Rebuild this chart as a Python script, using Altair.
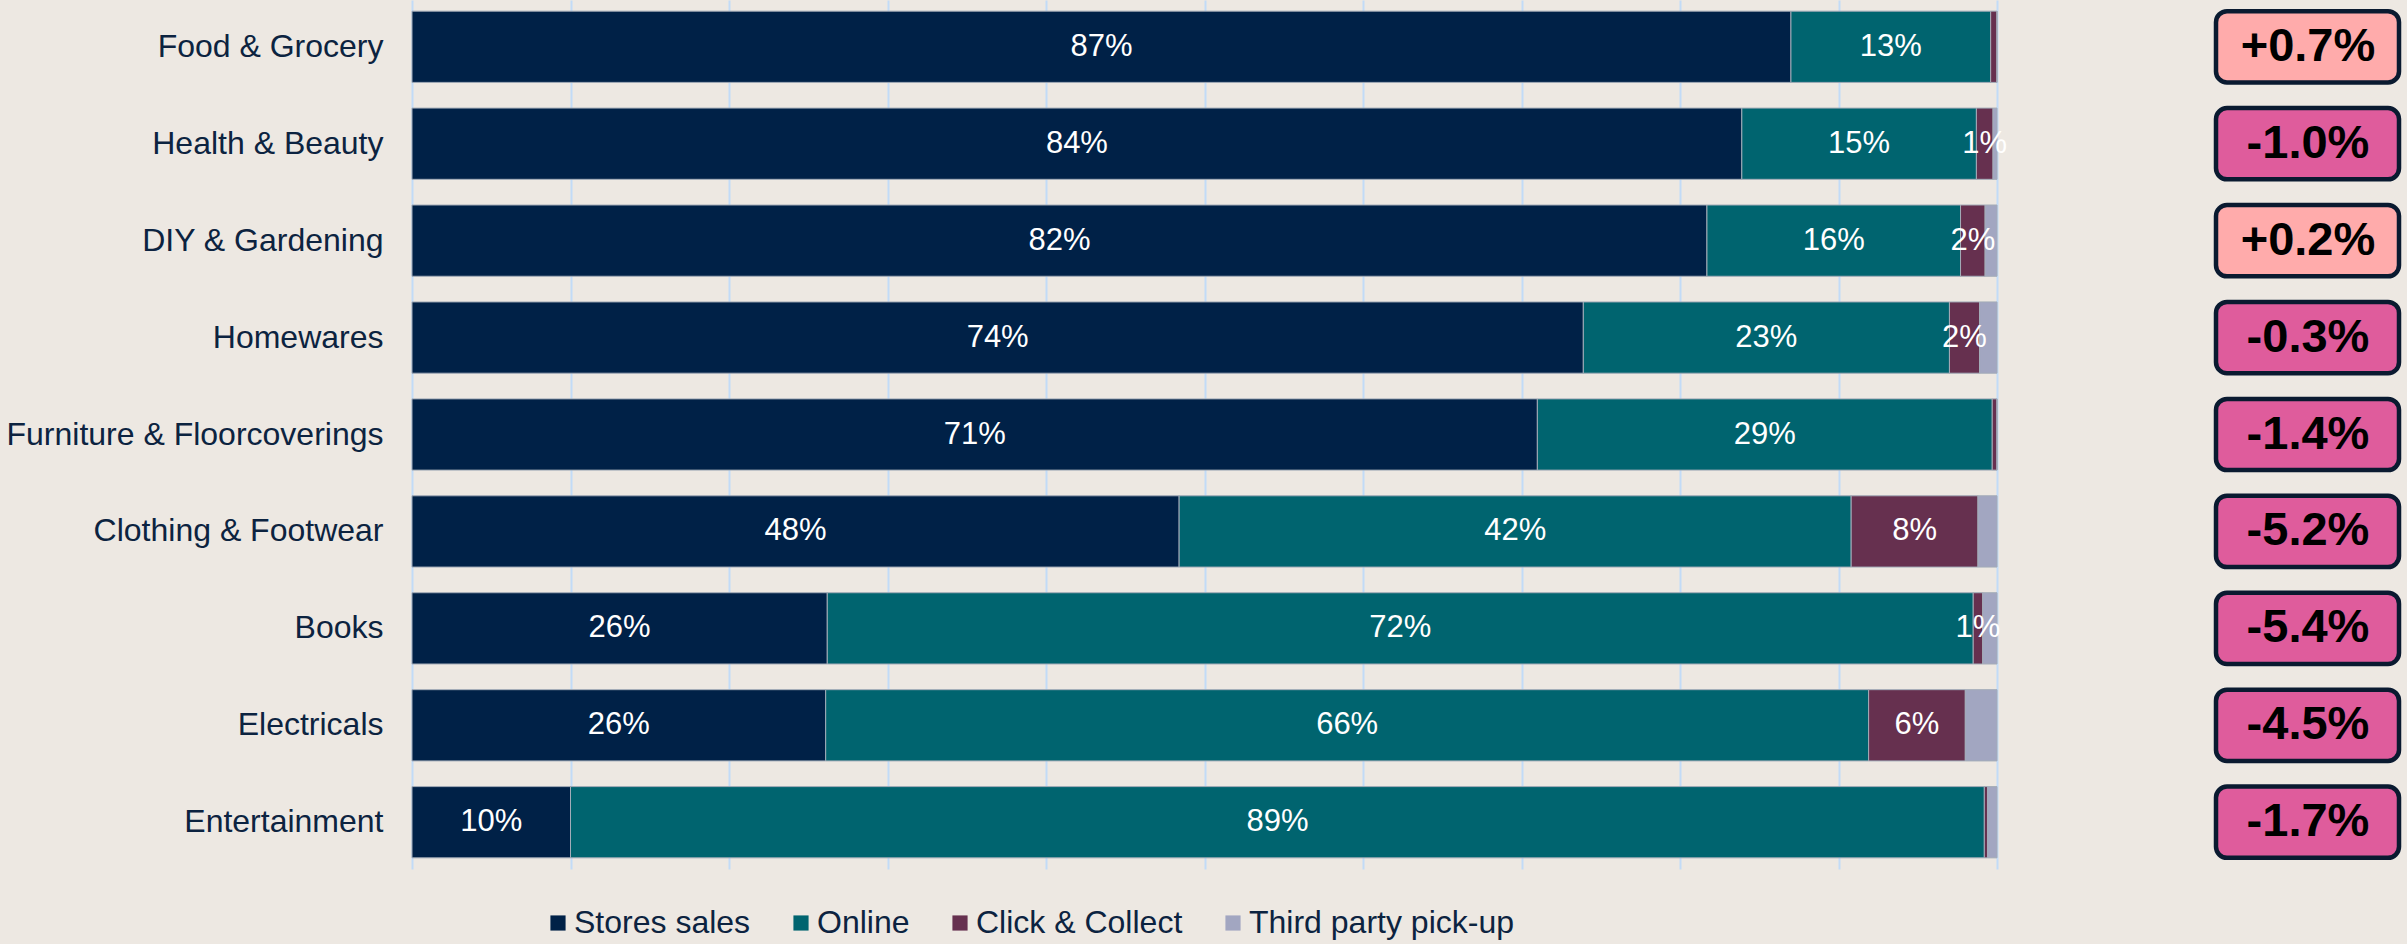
import altair as alt
import pandas as pd

categories = ["Food & Grocery", "Health & Beauty", "DIY & Gardening", "Homewares",
              "Furniture & Floorcoverings", "Clothing & Footwear", "Books",
              "Electricals", "Entertainment"]
series = ["Stores sales", "Online", "Click & Collect", "Third party pick-up"]
stores = [87.0, 83.9, 81.7, 73.9, 71.0, 48.4, 26.2, 26.1, 10.0]
online = [12.6, 14.8, 16.0, 23.1, 28.7, 42.4, 72.3, 65.8, 89.2]
click_collect = [0.4, 1.05, 1.55, 1.9, 0.3, 8.0, 0.6, 6.1, 0.2]
third_party = [0.0, 0.25, 0.75, 1.1, 0.0, 1.2, 0.9, 2.0, 0.6]
changes = [0.7, -1.0, 0.2, -0.3, -1.4, -5.2, -5.4, -4.5, -1.7]
grid_values = [0, 10, 20, 30, 40, 50, 60, 70, 80, 90, 100]

colors = ["#002147", "#00646f", "#66304f", "#a2a6c1"]
NAVY = "#0c2340"
BG = "#ede8e2"
GRID = "#c2dbf7"

rows = []
for i, c in enumerate(categories):
    for j, (s, vals) in enumerate(zip(series, [stores, online, click_collect, third_party])):
        rows.append({"category": c, "series": s, "order": j, "value": vals[i]})
df = pd.DataFrame(rows)

box_df = pd.DataFrame({
    "category": categories,
    "change": changes,
    "label": [f"{v:+.1f}%" for v in changes],
})

y_enc = alt.Y("category:N", sort=categories, title=None,
              scale=alt.Scale(paddingInner=0.265, paddingOuter=0.115),
              axis=alt.Axis(domain=False, ticks=False, labelFontSize=32,
                            labelColor=NAVY, labelPadding=29, labelLimit=500,
                            labelFont="Liberation Sans"))

bars = alt.Chart(df).mark_bar(stroke="#a3acb8", strokeWidth=1).encode(
    x=alt.X("value:Q", stack="zero", title=None,
            scale=alt.Scale(domain=[0, 100], nice=False),
            axis=alt.Axis(labels=False, ticks=False, domain=False,
                          values=grid_values,
                          grid=True, gridColor=GRID, gridWidth=2)),
    y=y_enc,
    color=alt.Color("series:N", sort=series,
                    scale=alt.Scale(domain=series, range=colors),
                    legend=alt.Legend(title=None, orient="none", direction="horizontal",
                                      legendX=130, legendY=907,
                                      symbolType="square", symbolSize=230,
                                      symbolStrokeWidth=0, symbolOpacity=1,
                                      labelFontSize=32, labelColor=NAVY,
                                      labelFont="Liberation Sans",
                                      labelOffset=0, columnPadding=34, padding=0,
                                      labelLimit=600)),
    order=alt.Order("order:Q"),
)

labels = alt.Chart(df).transform_stack(
    stack="value", groupby=["category"], as_=["v0", "v1"],
    sort=[alt.SortField("order", order="ascending")]
).transform_calculate(
    mid="(datum.v0 + datum.v1) / 2",
    txt="format(datum.value, '.0f') + '%'"
).transform_filter(
    "datum.series != 'Third party pick-up' && datum.value >= 0.5"
).mark_text(color="white", fontSize=31, font="Liberation Sans").encode(
    x=alt.X("mid:Q"),
    y=alt.Y("category:N", sort=categories),
    text="txt:N",
)

boxes = alt.Chart(box_df).mark_rect(
    cornerRadius=11, stroke="#0a1a30", strokeWidth=4.5
).encode(
    x=alt.value(1804),
    x2=alt.value(1987),
    y=alt.Y("category:N", sort=categories),
    color=alt.condition("datum.change > 0", alt.value("#ffabab"), alt.value("#df5c9c")),
)

box_text = alt.Chart(box_df).mark_text(
    fontSize=47, fontWeight="bold", color="black", font="Liberation Sans"
).encode(
    x=alt.value(1896),
    y=alt.Y("category:N", sort=categories),
    text="label:N",
)

chart = alt.layer(bars, labels, boxes, box_text).properties(
    width=1585, height=869, background=BG,
    padding={"left": 5, "top": 0, "right": 5, "bottom": 5},
).configure_view(stroke=None).configure_axis(gridColor=GRID)

chart.save("out.html", embed_options={"renderer": "svg", "actions": False})
